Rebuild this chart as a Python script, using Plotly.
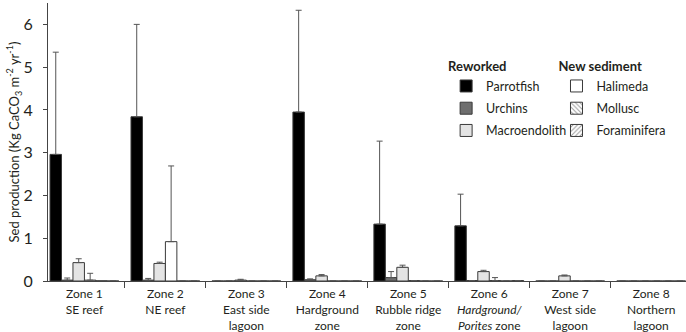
import plotly.graph_objects as go

zones = ["Zone 1<br>SE reef", "Zone 2<br>NE reef", "Zone 3<br>East side<br>lagoon",
         "Zone 4<br>Hardground<br>zone", "Zone 5<br>Rubble ridge<br>zone",
         "Zone 6<br><i>Hardground/</i><br><i>Porites</i> zone", "Zone 7<br>West side<br>lagoon",
         "Zone 8<br>Northern<br>lagoon"]

parrotfish = [2.96, 3.84, 0.0, 3.95, 1.33, 1.29, 0.0, 0.0]
parrotfish_err = [2.39, 2.16, 0.0, 2.38, 1.94, 0.74, 0.0, 0.0]
urchins = [0.02, 0.02, 0.0, 0.03, 0.08, 0.01, 0.0, 0.0]
urchins_err = [0.05, 0.04, 0.0, 0.02, 0.14, 0.0, 0.0, 0.0]
macroendolith = [0.43, 0.41, 0.02, 0.12, 0.32, 0.22, 0.12, 0.0]
macroendolith_err = [0.09, 0.03, 0.02, 0.03, 0.05, 0.03, 0.02, 0.0]
halimeda = [0.02, 0.92, 0.0, 0.0, 0.01, 0.01, 0.0, 0.0]
halimeda_err = [0.16, 1.77, 0.0, 0.0, 0.0, 0.07, 0.0, 0.0]
mollusc = [0.005, 0.0, 0.0, 0.0, 0.0, 0.0, 0.0, 0.0]
mollusc_err = [0.0] * 8
foraminifera = [0.0, 0.0, 0.0, 0.0, 0.0, 0.01, 0.0, 0.0]
foraminifera_err = [0.0] * 8

x = list(range(len(zones)))
edge = "#3a3a3a"
fig = go.Figure()

series = [
    ("Parrotfish", parrotfish, parrotfish_err, "#000000", "", "legend"),
    ("Urchins", urchins, urchins_err, "#6e6e6e", "", "legend"),
    ("Macroendolith", macroendolith, macroendolith_err, "#e4e4e4", "", "legend"),
    ("Halimeda", halimeda, halimeda_err, "#ffffff", "", "legend2"),
    ("Mollusc", mollusc, mollusc_err, "#ffffff", "\\", "legend2"),
    ("Foraminifera", foraminifera, foraminifera_err, "#ffffff", "/", "legend2"),
]
for name, vals, err, col, pat, leg in series:
    marker = dict(color=col, line=dict(color=edge, width=1))
    if pat:
        marker["pattern"] = dict(shape=pat, fgcolor="#333333", bgcolor="#ffffff", size=4, solidity=0.3)
    fig.add_trace(go.Bar(
        x=x, y=vals, name=name, marker=marker, legend=leg, legendgroup=name,
        error_y=dict(type="data", symmetric=False, array=err, arrayminus=[0] * len(err),
                     color="#555555", thickness=1, width=3),
    ))

fig.update_layout(
    width=686, height=332,
    margin=dict(l=48, r=0, t=3, b=51),
    paper_bgcolor="white", plot_bgcolor="white",
    barmode="group", bargap=0.15, bargroupgap=0,
    font=dict(family="Lato", color="#231f20", size=12),
    legend=dict(title=dict(text="<b>Reworked</b>", font=dict(size=13)),
                x=0.624, y=0.815, xanchor="left", yanchor="top",
                font=dict(size=12.5), bgcolor="rgba(0,0,0,0)", tracegroupgap=3),
    legend2=dict(title=dict(text="<b>New sediment</b>", font=dict(size=13)),
                 x=0.797, y=0.815, xanchor="left", yanchor="top",
                 font=dict(size=12.5), bgcolor="rgba(0,0,0,0)", tracegroupgap=3),
    showlegend=True,
)
fig.update_xaxes(
    range=[-0.45, 7.43], tickmode="array", tickvals=x, ticktext=zones, automargin=False,
    ticks="", showline=True, linecolor="#444444", linewidth=1, showgrid=False,
    zeroline=False, tickfont=dict(size=12, color="#231f20"), ticklabelstandoff=2,
    minor=dict(tickvals=[i + 0.5 for i in range(len(zones) - 1)], ticks="outside",
               ticklen=6, tickcolor="#444444", tickwidth=1, showgrid=False),
)
fig.update_yaxes(
    range=[0, 6.5], tickmode="array", tickvals=[0, 1, 2, 3, 4, 5, 6], automargin=False,
    ticks="outside", ticklen=4, tickcolor="#444444", showline=True, linecolor="#444444",
    linewidth=1, showgrid=False, zeroline=False, tickfont=dict(size=16, color="#231f20"),
    ticklabelstandoff=7,
    title=dict(text="Sed production (Kg CaCO<sub>3</sub> m<sup>-2</sup> yr<sup>-1</sup>)",
               font=dict(size=13, color="#231f20"), standoff=0),
)

fig.write_html("out.html", config={"displayModeBar": False},
               post_script="document.body.style.margin='0';")
